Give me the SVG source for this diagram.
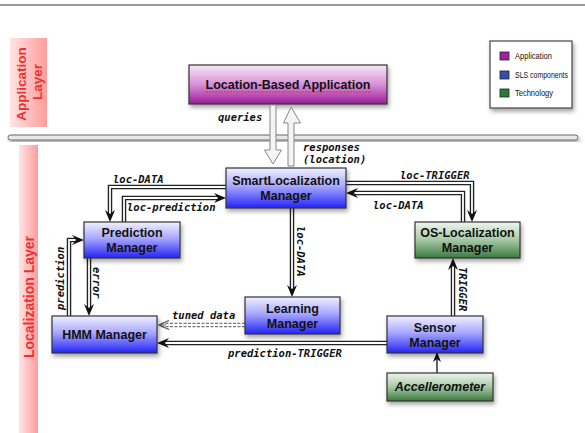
<svg xmlns="http://www.w3.org/2000/svg" width="585" height="433" viewBox="0 0 585 433">
<defs>
<linearGradient id="gBlue" x1="0" y1="0" x2="0" y2="1"><stop offset="0" stop-color="#f0f0ff"/><stop offset="0.45" stop-color="#a8a8ff"/><stop offset="1" stop-color="#2424f4"/></linearGradient>
<linearGradient id="gGreen" x1="0" y1="0" x2="0" y2="1"><stop offset="0" stop-color="#eef6ee"/><stop offset="0.5" stop-color="#a6c8a6"/><stop offset="1" stop-color="#3a7a3e"/></linearGradient>
<linearGradient id="gPurple" x1="0" y1="0" x2="0" y2="1"><stop offset="0" stop-color="#f8e8f8"/><stop offset="0.5" stop-color="#d890d8"/><stop offset="1" stop-color="#9a1c9a"/></linearGradient>
<linearGradient id="gPink" x1="0" y1="0" x2="1" y2="0"><stop offset="0" stop-color="#ffe4e4"/><stop offset="1" stop-color="#ff9c9c"/></linearGradient>
<filter id="sh" x="-10%" y="-20%" width="130%" height="160%"><feDropShadow dx="1.5" dy="3" stdDeviation="2" flood-color="#000" flood-opacity="0.35"/></filter>
<marker id="ah" markerUnits="userSpaceOnUse" viewBox="0 0 12 10" refX="5" refY="5" markerWidth="12" markerHeight="10" orient="auto"><path d="M0,0 L12,5 L0,10 L4,5 z" fill="#111"/></marker>
<marker id="ahOpen" markerUnits="userSpaceOnUse" viewBox="0 0 12 10" refX="10" refY="5" markerWidth="12" markerHeight="10" orient="auto"><path d="M1,0.5 L11,5 L1,9.5 M4,5 L11,5" fill="none" stroke="#555" stroke-width="1.2"/></marker>
<marker id="ahSmall" markerUnits="userSpaceOnUse" viewBox="0 0 10 8" refX="9" refY="4" markerWidth="10" markerHeight="8" orient="auto"><path d="M0,0 L10,4 L0,8 L3,4 z" fill="#111"/></marker>
</defs>
<style>
.node{stroke:#333;stroke-width:1.2;filter:url(#sh)}
.blue{fill:url(#gBlue)}
.green{fill:url(#gGreen)}
.purple{fill:url(#gPurple)}
.nt{font-family:"Liberation Sans",Arial,sans-serif;font-weight:bold;font-size:12.5px;fill:#111;text-anchor:middle}
.lbl{font-family:"DejaVu Sans Mono","Liberation Mono",monospace;font-weight:bold;font-style:italic;font-size:10.5px;fill:#111}
.outer{fill:none;stroke:#222;stroke-width:4.5}
.inner{fill:none;stroke:#fff;stroke-width:1.8}
.layer{font-family:"Liberation Sans",Arial,sans-serif;font-weight:bold;fill:#ee3030;text-anchor:middle}
.leg{font-family:"Liberation Sans",Arial,sans-serif;font-size:9px;fill:#111}
</style>
<rect width="585" height="433" fill="#fff"/>
<line x1="0" y1="5" x2="585" y2="5" stroke="#999" stroke-width="2"/>

<g id="application-layer">
<rect x="10" y="38" width="37" height="89" fill="url(#gPink)"/>
<text class="layer" font-size="13.5" transform="translate(26,84) rotate(-90)">Application</text>
<text class="layer" font-size="13.5" transform="translate(42,82) rotate(-90)">Layer</text>
</g>

<g id="localization-layer">
<rect x="19" y="145" width="19" height="288" fill="url(#gPink)"/>
<text class="layer" font-size="14" transform="translate(34,297) rotate(-90)">Localization Layer</text>
</g>

<g id="separator">
<rect x="8" y="135" width="570" height="5" rx="2.5" fill="#e8e8e8" stroke="#666" stroke-width="1" filter="url(#sh)"/>
</g>

<g id="legend">
<rect x="490" y="41" width="82" height="67" fill="#fff" stroke="#444" stroke-width="1.2" filter="url(#sh)"/>
<rect x="500" y="52" width="9" height="8" fill="#a020a0" stroke="#222" stroke-width="0.8"/>
<text class="leg" x="515" y="59" textLength="37" lengthAdjust="spacingAndGlyphs">Application</text>
<rect x="500" y="71" width="9" height="8" fill="#3050b0" stroke="#222" stroke-width="0.8"/>
<text class="leg" x="515" y="78" textLength="53" lengthAdjust="spacingAndGlyphs">SLS components</text>
<rect x="500" y="89" width="9" height="8" fill="#2a7a3a" stroke="#222" stroke-width="0.8"/>
<text class="leg" x="515" y="96" textLength="38" lengthAdjust="spacingAndGlyphs">Technology</text>
</g>

<g id="location-based-application">
<rect class="node purple" x="189" y="65" width="198" height="39"/>
<text class="nt" x="288" y="89" font-size="12">Location-Based Application</text>
<line x1="206" y1="92" x2="370" y2="92" stroke="#d03030" stroke-width="0.8" stroke-dasharray="2 1"/>
</g>

<g id="connectors">
<g id="queries">
<path d="M270,105 V150 H264.5 L273,164 L281.5,150 H276 V105 z" fill="#f4f4f4" stroke="#888" stroke-width="1"/>
<text class="lbl" x="218" y="121">queries</text>
</g>
<g id="responses">
<path d="M288,166 V123 H283.5 L291,107 L300.5,123 H294 V166 z" fill="#f4f4f4" stroke="#888" stroke-width="1"/>
<text class="lbl" x="303" y="151">responses</text>
<text class="lbl" x="303" y="163">(location)</text>
</g>
<g id="c-locdata-pred">
<path class="outer" d="M226,187 H110 V215"/><path class="inner" d="M226,187 H110 V215" marker-end="url(#ah)"/>
<text class="lbl" x="113" y="183">loc-DATA</text>
</g>
<g id="c-locprediction">
<path class="outer" d="M124,222 V198 H219"/><path class="inner" d="M124,222 V198 H219" marker-end="url(#ah)"/>
<text class="lbl" x="127" y="211">loc-prediction</text>
</g>
<g id="c-loctrigger">
<path class="outer" d="M346,183 H472 V215"/><path class="inner" d="M346,183 H472 V215" marker-end="url(#ah)"/>
<text class="lbl" x="400" y="179">loc-TRIGGER</text>
</g>
<g id="c-locdata-os">
<path class="outer" d="M463,222 V193 H353"/><path class="inner" d="M463,222 V193 H353" marker-end="url(#ah)"/>
<text class="lbl" x="373" y="209">loc-DATA</text>
</g>
<g id="c-locdata-learning">
<path class="outer" d="M292,208 V290"/><path class="inner" d="M292,208 V290" marker-end="url(#ah)"/>
<text class="lbl" transform="translate(297,226) rotate(90)">loc-DATA</text>
</g>
<g id="c-prediction">
<path class="outer" d="M69,316 V240 H77"/><path class="inner" d="M69,316 V240 H77" marker-end="url(#ah)"/>
<text class="lbl" transform="translate(64,310) rotate(-90)">prediction</text>
</g>
<g id="c-error">
<path class="outer" d="M89,258 V309"/><path class="inner" d="M89,258 V309" marker-end="url(#ah)"/>
<text class="lbl" transform="translate(93,267) rotate(90)">error</text>
</g>
<g id="c-tuned">
<path d="M245,325 H160" fill="none" stroke="#777" stroke-width="4.5" stroke-dasharray="3 1.5"/>
<path d="M245,325 H160" fill="none" stroke="#fff" stroke-width="1.8" marker-end="url(#ahOpen)"/>
<text class="lbl" x="172" y="319">tuned data</text>
</g>
<g id="c-predtrigger">
<path class="outer" d="M387,343 H164"/><path class="inner" d="M387,343 H164" marker-end="url(#ah)"/>
<text class="lbl" x="228" y="357">prediction-TRIGGER</text>
</g>
<g id="c-trigger">
<path class="outer" d="M453,316 V265"/><path class="inner" d="M453,316 V265" marker-end="url(#ah)"/>
<text class="lbl" transform="translate(459,267) rotate(90)">TRIGGER</text>
</g>
<g id="c-accel">
<path d="M437,373 V353" fill="none" stroke="#111" stroke-width="1.3" marker-end="url(#ahSmall)"/>
</g>
</g>

<g id="smartlocalization-manager">
<rect class="node blue" x="226" y="168" width="120" height="40"/>
<text class="nt" x="286" y="185">SmartLocalization</text>
<text class="nt" x="286" y="200">Manager</text>
</g>
<g id="prediction-manager">
<rect class="node blue" x="84" y="222" width="96" height="36"/>
<text class="nt" x="132" y="237">Prediction</text>
<text class="nt" x="132" y="252">Manager</text>
</g>
<g id="os-localization-manager">
<rect class="node green" x="415" y="222" width="105" height="36"/>
<text class="nt" x="467.5" y="237">OS-Localization</text>
<text class="nt" x="467.5" y="252">Manager</text>
</g>
<g id="hmm-manager">
<rect class="node blue" x="52" y="316" width="105" height="37"/>
<text class="nt" x="104.5" y="339">HMM Manager</text>
</g>
<g id="learning-manager">
<rect class="node blue" x="245" y="297" width="95" height="37"/>
<text class="nt" x="292.5" y="313">Learning</text>
<text class="nt" x="292.5" y="328">Manager</text>
</g>
<g id="sensor-manager">
<rect class="node blue" x="387" y="316" width="96" height="37"/>
<text class="nt" x="435" y="332">Sensor</text>
<text class="nt" x="435" y="347">Manager</text>
</g>
<g id="accellerometer">
<rect class="node green" x="387" y="373" width="106" height="28"/>
<text class="nt" x="440" y="391" font-style="italic">Accellerometer</text>
</g>
</svg>
